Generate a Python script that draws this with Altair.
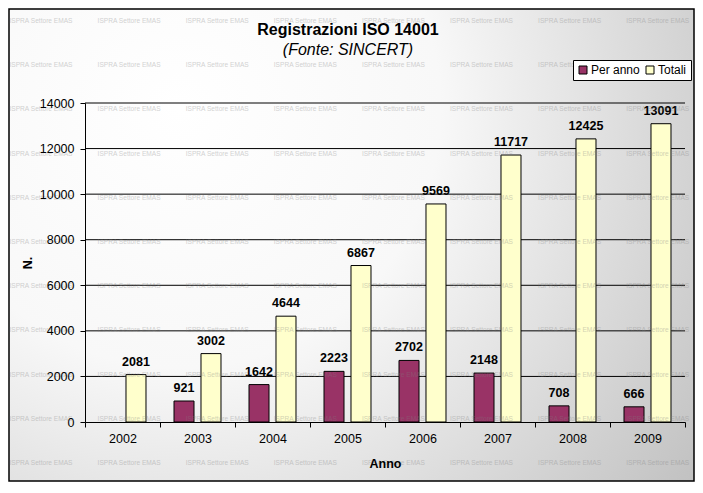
import altair as alt
import pandas as pd

years = ["2002", "2003", "2004", "2005", "2006", "2007", "2008", "2009"]
per_anno = [None, 921, 1642, 2223, 2702, 2148, 708, 666]
totali = [2081, 3002, 4644, 6867, 9569, 11717, 12425, 13091]
series = ["Per anno", "Totali"]
series_colors = ["#993366", "#FFFFCC"]
y_ticks = [0, 2000, 4000, 6000, 8000, 10000, 12000, 14000]
title_text = "Registrazioni ISO 14001"
subtitle_text = "(Fonte: SINCERT)"
watermark_text = "ISPRA Settore EMAS"

FONT = "Liberation Sans"
W, H = 600, 319
PL, PT, PR, PB = 77, 95, 10, 60

records = []
for yr, p, t in zip(years, per_anno, totali):
    if p is not None:
        records.append({"Anno": yr, "Serie": series[0], "N": p})
    records.append({"Anno": yr, "Serie": series[1], "N": t})
bars_df = pd.DataFrame(records)
grid_df = pd.DataFrame({"N": y_ticks[1:]})

x_enc = alt.X(
    "Anno:N", sort=years,
    scale=alt.Scale(domain=years, paddingInner=0, paddingOuter=0),
    axis=alt.Axis(
        title="Anno", labelAngle=0, labelFont=FONT, labelFontSize=12.5,
        labelColor="black", labelPadding=5, tickBand="extent", tickSize=5,
        tickColor="black", domainColor="black", grid=False,
        titleFont=FONT, titleFontSize=12.5, titleFontWeight="bold",
        titleColor="black", titleY=35, zindex=1,
    ),
)
xo_enc = alt.XOffset(
    "Serie:N", sort=series,
    scale=alt.Scale(domain=series, paddingInner=0.259, paddingOuter=0.519),
)
y_enc = alt.Y(
    "N:Q",
    scale=alt.Scale(domain=[0, 14000], nice=False, zero=True),
    axis=alt.Axis(
        values=y_ticks, format="d", labelFont=FONT, labelFontSize=12.5,
        labelColor="black", labelPadding=6, tickSize=5, tickColor="black",
        domainColor="black", grid=False, title="N.", titleFont=FONT,
        titleFontSize=12.5, titleFontWeight="bold", titleColor="black",
        titleX=-58, titleY=159.5, titleAlign="center", titleBaseline="middle",
        zindex=1,
    ),
)

grid = alt.Chart(grid_df).mark_rule(color="black", strokeWidth=1).encode(y=y_enc)

bars = alt.Chart(bars_df).mark_bar(stroke="black", strokeWidth=1).encode(
    x=x_enc,
    xOffset=xo_enc,
    y=y_enc,
    color=alt.Color(
        "Serie:N", sort=series,
        scale=alt.Scale(domain=series, range=series_colors),
        legend=alt.Legend(
            title=None, orient="none", legendX=488, legendY=-43,
            direction="horizontal", fillColor="white", strokeColor="black",
            padding=4, symbolType="square", symbolSize=64,
            symbolStrokeColor="black", symbolStrokeWidth=1,
            labelFont=FONT, labelFontSize=12, labelColor="black",
            columnPadding=4, labelOffset=2, zindex=1,
        ),
    ),
)

labels = alt.Chart(bars_df).mark_text(
    font=FONT, fontSize=12.5, fontWeight="bold", color="black",
    baseline="alphabetic", dy=-9,
).encode(x=x_enc, xOffset=xo_enc, y=y_enc, text=alt.Text("N:Q", format="d"))

inner = alt.layer(grid, bars, labels)

bg = alt.Chart(pd.DataFrame({"k": [0]})).mark_rect(
    fill=alt.RadialGradient(
        gradient="radial",
        stops=[
            alt.GradientStop(offset=0, color="#ffffff"),
            alt.GradientStop(offset=0.4, color="#f8f8f8"),
            alt.GradientStop(offset=1, color="#bfbfbf"),
        ],
        x1=0.25, y1=0.3, r1=0, x2=0.25, y2=0.3, r2=0.95,
    ),
    stroke="black", strokeWidth=1.5,
).encode(
    x=alt.value(-PL + 1), x2=alt.value(W + PR - 1),
    y=alt.value(-PT + 1), y2=alt.value(H + PB - 1),
)

wm = alt.Chart(alt.sequence(0, 88, as_="i")).transform_calculate(
    px="(datum.i % 8) * 88.1 + 41 - 85",
    py="floor(datum.i / 8) * 44.2 + 21 - 103",
).mark_text(
    text=watermark_text, font=FONT, fontSize=6.6, color="#808080", opacity=0.35,
).encode(
    x=alt.X("px:Q", scale=None, axis=None),
    y=alt.Y("py:Q", scale=None, axis=None),
)

chart = alt.layer(bg, inner, wm).properties(
    width=W, height=H,
    autosize=alt.AutoSizeParams(type="none"),
    padding={"left": PL, "top": PT, "right": PR, "bottom": PB},
    title=alt.TitleParams(
        text=title_text, subtitle=subtitle_text, font=FONT, fontSize=16,
        fontWeight="bold", color="black", subtitleFont=FONT,
        subtitleFontSize=16, subtitleFontStyle="italic", subtitleColor="black",
        anchor="middle", dx=-37, offset=-50, subtitlePadding=4, zindex=1,
    ),
).configure_view(strokeWidth=0)

chart.save("out.html", embed_options={"renderer": "svg", "actions": False})
